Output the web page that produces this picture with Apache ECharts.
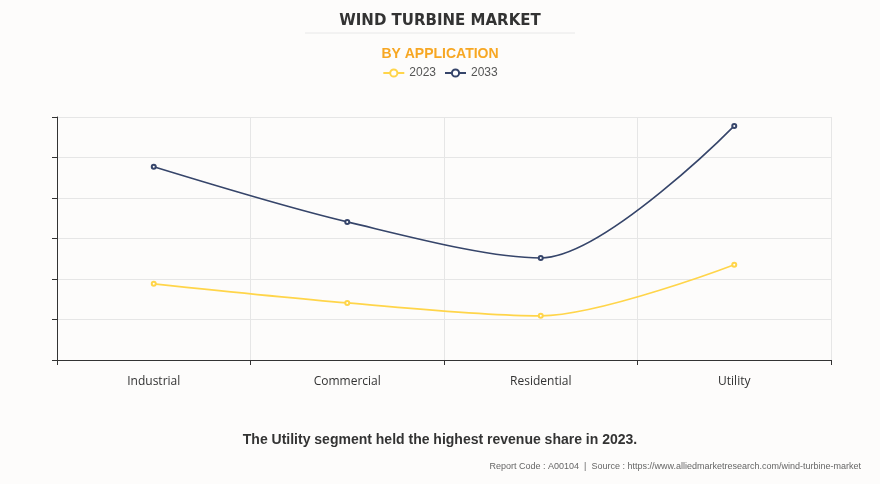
<!DOCTYPE html>
<html>
<head>
<meta charset="utf-8">
<script src="https://cdn.jsdelivr.net/npm/echarts@6/dist/echarts.min.js"></script>
<style>
html,body{margin:0;padding:0;background:#fdfcfb;}
#c{width:880px;height:484px;}
</style>
</head>
<body>
<div id="c"></div>
<script>
const categories = ['Industrial', 'Commercial', 'Residential', 'Utility'];
const values2023 = [18.8, 14.1, 10.9, 23.5];
const values2033 = [47.7, 34.1, 25.2, 57.8];
const seriesNames = ['2023', '2033'];

const chart = echarts.init(document.getElementById('c'));
chart.setOption({
  backgroundColor: '#fdfcfb',
  title: [
    {text: 'WIND TURBINE MARKET', left: 'center', top: 9,
     textStyle: {fontFamily: 'Arial Black, DejaVu Sans', fontWeight: 900, fontSize: 15, color: '#333'}},
    {text: 'BY APPLICATION', left: 'center', top: 42,
     textStyle: {fontFamily: 'Liberation Sans Narrow, Liberation Sans, Arial', fontWeight: 'bold', fontSize: 14, color: '#f7a723'}},
    {text: 'The Utility segment held the highest revenue share in 2023.', left: 'center', top: 428,
     textStyle: {fontFamily: 'Liberation Sans, Arial', fontWeight: 'bold', fontSize: 14, color: '#333'}},
    {text: 'Report Code : A00104  |  Source : https://www.alliedmarketresearch.com/wind-turbine-market', right: 14, top: 457,
     textStyle: {fontFamily: 'Liberation Sans, Arial', fontWeight: 'normal', fontSize: 9, color: '#666'}}
  ],
  graphic: [{type: 'line', shape: {x1: 305, y1: 33, x2: 575, y2: 33}, style: {stroke: '#e8e8e8', lineWidth: 1}}],
  legend: {top: 62, left: 'center', itemWidth: 21, itemHeight: 9, itemGap: 8,
    textStyle: {fontFamily: 'Liberation Sans, Arial', fontSize: 12, color: '#555'},
    data: seriesNames},
  grid: {left: 57, right: 49, top: 117, bottom: 124},
  xAxis: {type: 'category', data: categories, boundaryGap: true,
    axisLine: {lineStyle: {color: '#333'}},
    axisTick: {show: true, alignWithLabel: false, length: 5, lineStyle: {color: '#333'}},
    axisLabel: {fontFamily: 'Open Sans, Noto Sans', fontSize: 12, color: '#333', margin: 16},
    splitLine: {show: true, lineStyle: {color: '#e6e6e6'}}},
  yAxis: {type: 'value', min: 0, max: 60, interval: 10,
    axisLine: {show: true, lineStyle: {color: '#333'}},
    axisTick: {show: true, length: 5, lineStyle: {color: '#333'}},
    axisLabel: {show: false},
    splitLine: {lineStyle: {color: '#e6e6e6'}}},
  series: [
    {name: seriesNames[0], type: 'line', data: values2023, smooth: 0.3, symbol: 'emptyCircle', symbolSize: 4,
     color: '#ffd54a', lineStyle: {width: 1.6, color: '#ffd54a'}, itemStyle: {color: '#ffd54a', borderWidth: 1}},
    {name: seriesNames[1], type: 'line', data: values2033, smooth: 0.3, symbol: 'emptyCircle', symbolSize: 4,
     color: '#36456a', lineStyle: {width: 1.6, color: '#36456a'}, itemStyle: {color: '#36456a', borderWidth: 1}}
  ]
});
</script>
</body>
</html>
